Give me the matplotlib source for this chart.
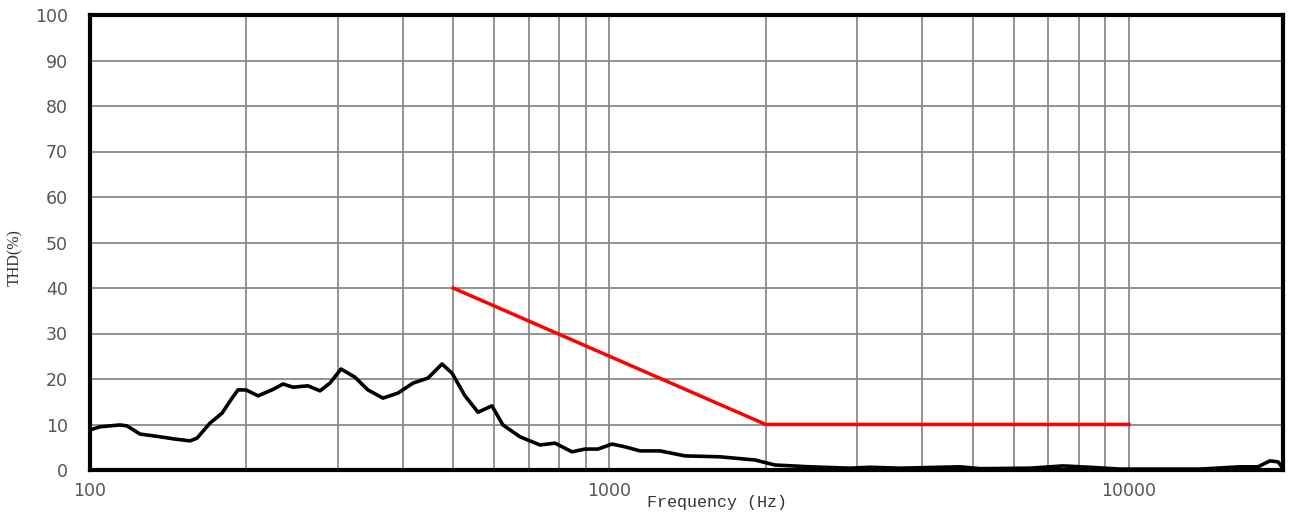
import matplotlib
matplotlib.use("Agg")
import matplotlib.pyplot as plt
from matplotlib.ticker import FixedLocator, NullFormatter, FixedFormatter

# THD curve (frequency Hz, THD %)
freq = [100, 104.5, 114.2, 117.8, 124.8, 136.4, 145.7, 155.8, 160.7, 170.2,
        179.6, 187.7, 192.7, 199.7, 210.6, 224.0, 235.3, 245.9, 262.8, 277.2,
        289.7, 304.2, 323.6, 342.8, 366.4, 391.6, 418.6, 447.3, 476.1, 497.6,
        527.1, 558.4, 593.9, 623.7, 672.7, 734.9, 785.6, 847.0, 897.2, 950.4,
        1011, 1071, 1145, 1251, 1398, 1632, 1906, 2083, 2432, 2904,
        3174, 3625, 4729, 5168, 6447, 7464, 8414, 9609, 13700, 16360,
        17720, 18680, 19360, 19800]
thd = [8.8, 9.5, 9.9, 9.7, 7.9, 7.3, 6.8, 6.4, 7.0, 10.3,
       12.5, 15.8, 17.6, 17.6, 16.3, 17.6, 18.9, 18.2, 18.5, 17.4,
       19.1, 22.2, 20.4, 17.6, 15.8, 16.9, 19.1, 20.2, 23.3, 21.3,
       16.3, 12.7, 14.1, 9.9, 7.3, 5.5, 5.9, 4.0, 4.6, 4.6,
       5.7, 5.1, 4.2, 4.2, 3.1, 2.9, 2.2, 1.1, 0.7, 0.4,
       0.6, 0.4, 0.7, 0.3, 0.4, 0.9, 0.6, 0.2, 0.2, 0.7,
       0.7, 2.0, 1.8, 0.4]

# Limit line
limit_freq = [500, 2000, 10000]
limit_thd = [40, 10, 10]

x_major = [100, 1000, 10000]
x_major_labels = ["100", "1000", "10000"]
x_minor = [200, 300, 400, 500, 600, 700, 800, 900,
           2000, 3000, 4000, 5000, 6000, 7000, 8000, 9000]
y_ticks = list(range(0, 101, 10))

fig = plt.figure(figsize=(12.9, 5.13), dpi=100)
ax = fig.add_axes([90/1290, 1 - 470/513, (1283-90)/1290, (470-15)/513])

ax.plot(freq, thd, color="black", lw=2.6, solid_joinstyle="round", zorder=3)
ax.plot(limit_freq, limit_thd, color="#ff0000", lw=2.5, zorder=4)

ax.set_xscale("log")
ax.set_xlim(100, 19800)
ax.set_ylim(0, 100)

ax.xaxis.set_major_locator(FixedLocator(x_major))
ax.xaxis.set_major_formatter(FixedFormatter(x_major_labels))
ax.xaxis.set_minor_locator(FixedLocator(x_minor))
ax.xaxis.set_minor_formatter(NullFormatter())
ax.set_yticks(y_ticks)

ax.grid(True, which="both", axis="x", color="#8a8a8a", lw=1.3)
ax.grid(True, which="major", axis="y", color="#8a8a8a", lw=1.3)
ax.set_axisbelow(True)

ax.tick_params(axis="both", which="both", length=0, labelsize=12.5, labelcolor="#555555")
ax.tick_params(axis="y", pad=16)
ax.tick_params(axis="x", pad=9)

for s in ax.spines.values():
    s.set_linewidth(3)
    s.set_color("black")
    s.set_zorder(5)

ax.set_xlabel("Frequency (Hz)", fontsize=12, family="Liberation Mono", color="#333333")
ax.xaxis.set_label_coords((717-90)/(1283-90), -0.055)
ax.set_ylabel("THD(%)", fontsize=11.5, family="Liberation Serif", color="#333333")
ax.yaxis.set_label_coords(-0.0565, 0.466)

fig.savefig("out.png", dpi=100, facecolor="white")
